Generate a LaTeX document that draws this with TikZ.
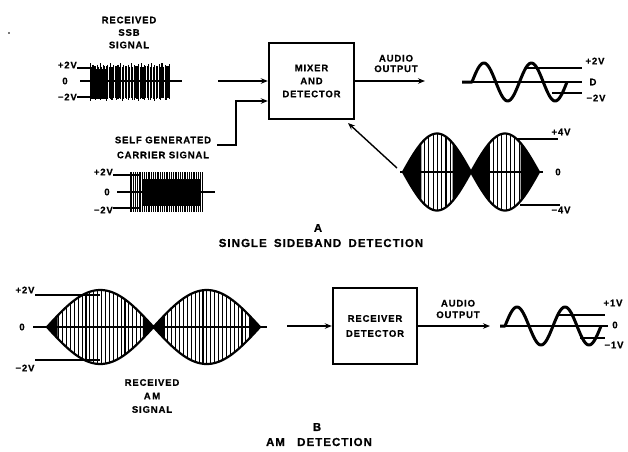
\documentclass[tikz,border=0pt]{standalone}
\usepackage{fontspec}
\usetikzlibrary{arrows.meta}
\newfontfamily\lab[LetterSpace=9, BoldFeatures={FakeBold=0.6}]{Liberation Sans}
\newcommand\drawamwave[6]{% #1 x0, #2 lobe width, #3 centre y, #4 amplitude, #5 spacing, #6 dark fraction
  \pgfmathsetmacro\amend{#1+2*#2}
  \pgfmathsetmacro\amd{#6*#2}
  \foreach \aa/\bb in {#1/#1+\amd, #1+#2-\amd/#1+#2+\amd, \amend-\amd/\amend}{%
    \fill plot[domain=\aa:\bb, samples=20] (\x,{#3-#4*abs(sin((\x-#1)/#2*180))})
      -- plot[domain=\bb:\aa, samples=20] (\x,{#3+#4*abs(sin((\x-#1)/#2*180))}) -- cycle;}
  \draw[env] plot[domain=#1:\amend, samples=120] (\x,{#3-#4*abs(sin((\x-#1)/#2*180))});
  \draw[env] plot[domain=#1:\amend, samples=120] (\x,{#3+#4*abs(sin((\x-#1)/#2*180))});
  \pgfmathtruncatemacro\amn{2*#2/#5}
  \foreach \k in {1,...,\amn}{%
    \pgfmathsetmacro\xx{#1+\k*#5}
    \pgfmathsetmacro\hh{#4*abs(sin((\xx-#1)/#2*180))}
    \draw[carr] (\xx,#3-\hh) -- (\xx,#3+\hh);}
}
\begin{document}
\begin{tikzpicture}[x=1pt,y=-1pt,
  lbl/.style={font=\lab\bfseries\fontsize{9.5}{12}\selectfont, inner sep=0pt, align=center},
  ttl/.style={font=\lab\bfseries\fontsize{11.5}{12}\selectfont, inner sep=0pt, align=center},
  blk/.style={draw, line width=2.4pt, inner sep=0pt, align=center,
    font=\lab\bfseries\fontsize{9.5}{13}\selectfont},
  arr/.style={-{Stealth[length=7pt,width=5.5pt]}, line width=1.4pt},
  axis/.style={line width=1.4pt},
  sig/.style={line width=3pt, line join=round},
  env/.style={line width=2.2pt},
  carr/.style={line width=1.1pt}]
\useasboundingbox (0,0) rectangle (628,451);

% ---------------- Part A ----------------
\node[lbl] (dot) at (9,33) {.};
\node[lbl, font=\lab\bfseries\fontsize{9.5}{12.5}\selectfont] (ssbl) at (129,32.5) {RECEIVED\\SSB\\SIGNAL};
\node[lbl, anchor=east] (ssbp) at (77,65) {+2V};
\node[lbl] (ssbz) at (65,81) {0};
\node[lbl, anchor=east] (ssbm) at (77,97) {−2V};
% SSB signal
\fill (90,69) rectangle (107,99);
\foreach \k in {0,...,54}{%
  \pgfmathsetmacro\xx{90+\k*1.47}
  \pgfmathsetmacro\tt{63+4*abs(sin(\k*77))}
  \pgfmathsetmacro\bb{101-3*abs(sin(\k*131))}
  \pgfmathsetmacro\ww{0.5+0.8*abs(sin(\k*53))}
  \draw[line width=\ww pt] (\xx,\tt) -- (\xx,\bb);}
\draw[axis] (80,81) coordinate (ssbz0) -- (182,81) coordinate (ssbz1);
\draw[axis] (77,68) coordinate (ssbp0) -- (95,68) coordinate (ssbp1);
\draw[axis] (77,97) coordinate (ssbm0) -- (95,97) coordinate (ssbm1);

% Mixer
\node[blk, minimum width=85pt, minimum height=76pt] (mix) at (311.5,81) {MIXER\\AND\\DETECTOR};
\coordinate (ssbout) at (218,81);
\draw[arr] (ssbout) -- (mix.west);

% self generated carrier
\node[lbl, font=\lab\bfseries\fontsize{9.5}{15}\selectfont] (selfl) at (163,147.5) {SELF GENERATED\\CARRIER SIGNAL};
\coordinate (cstart) at (217,145);
\coordinate (cbend) at (236,101);
\draw[arr] (cstart) -| (cbend) -- (mix.west |- cbend);
\node[lbl, anchor=east] (carp) at (113,172) {+2V};
\node[lbl] (carz) at (107,192) {0};
\node[lbl, anchor=east] (carm) at (113,210) {−2V};
\fill (143,179) rectangle (200,206);
\foreach \k in {0,...,40}{%
  \pgfmathsetmacro\xx{130+\k*1.8}
  \draw[line width=1pt] (\xx,172) -- (\xx,212);}
\draw[axis] (117,192) coordinate (carz0) -- (215,192) coordinate (carz1);
\draw[axis] (113,175) coordinate (carp0) -- (140,175) coordinate (carp1);
\draw[axis] (113,208) coordinate (carm0) -- (140,208) coordinate (carm1);

% audio output (top)
\coordinate (aout) at (425,81);
\draw[arr] (mix.east) -- (aout);
\node[lbl, font=\lab\bfseries\fontsize{9.5}{10.5}\selectfont] (aol) at (396,63.5) {AUDIO\\OUTPUT};
\draw[axis] (462,82) coordinate (tz0) -- (582,82) coordinate (tz1);
\draw[sig] (462,82) -- (472,82) -- plot[domain=0:95, samples=90] ({472+\x},{82-19*sin(\x/47.5*360)});
\draw[axis] (527,68) coordinate (tp0) -- (582,68) coordinate (tp1);
\draw[axis] (552,93) coordinate (tm0) -- (582,93) coordinate (tm1);
\node[lbl] (tpl) at (595,61) {+2V};
\node[lbl] (tzl) at (593,82) {D};
\node[lbl] (tml) at (596,98) {−2V};

% AM wave (4 V)
\drawamwave{403}{68}{172}{38.5}{4.3}{0.27}
\draw[axis] (400,172) coordinate (fz0) -- (543,172) coordinate (fz1);
\draw[axis] (517,139) coordinate (fp0) -- (558,139) coordinate (fp1);
\draw[axis] (520,205) coordinate (fm0) -- (560,205) coordinate (fm1);
\node[lbl] (fpl) at (561,132) {+4V};
\node[lbl] (fzl) at (558,172) {0};
\node[lbl] (fml) at (561,210) {−4V};
\coordinate (fin) at (397,168);
\coordinate (fto) at (348,123);
\draw[arr] (fin) -- (fto);

\node[ttl] (la) at (318,228) {A};
\node[ttl] (ta) at (321,243) {SINGLE\hspace{3pt} SIDEBAND\hspace{3pt} DETECTION};

% ---------------- Part B ----------------
\drawamwave{47}{106.5}{327}{37}{3.9}{0.1}
\draw[axis] (33,327) coordinate (bz0) -- (267,327) coordinate (bz1);
\draw[axis] (35,295) coordinate (bp0) -- (100,295) coordinate (bp1);
\draw[axis] (35,360) coordinate (bm0) -- (100,360) coordinate (bm1);
\node[lbl] (bpl) at (25,290) {+2V};
\node[lbl] (bzl) at (22,327) {0};
\node[lbl] (bml) at (25,368) {−2V};
\node[lbl, font=\lab\bfseries\fontsize{9.5}{13.5}\selectfont] (raml) at (152,396) {RECEIVED\\A\,M\\SIGNAL};

\node[blk, minimum width=84pt, minimum height=76pt, font=\lab\bfseries\fontsize{9.5}{15}\selectfont] (rd) at (375,326) {RECEIVER\\DETECTOR};
\coordinate (bin) at (287,326);
\draw[arr] (bin) -- (rd.west);
\coordinate (bout) at (490,326);
\draw[arr] (rd.east) -- (bout);
\node[lbl, font=\lab\bfseries\fontsize{9.5}{11.5}\selectfont] (baol) at (458,309) {AUDIO\\OUTPUT};

\draw[axis] (500,326) coordinate (sz0) -- (608,326) coordinate (sz1);
\draw[sig] (500,326) -- (505,326) -- plot[domain=0:96, samples=90] ({505+\x},{326-19*sin(\x/48*360)});
\draw[axis] (558,315) coordinate (sp0) -- (605,315) coordinate (sp1);
\draw[axis] (580,338) coordinate (sm0) -- (605,338) coordinate (sm1);
\node[lbl] (spl) at (613,303) {+1V};
\node[lbl] (szl) at (615,325) {0};
\node[lbl] (sml) at (614,345) {−1V};

\node[ttl] (lb) at (317,427) {B};
\node[ttl] (tb) at (319,442) {AM\hspace{8pt} DETECTION};
\end{tikzpicture}
\end{document}
